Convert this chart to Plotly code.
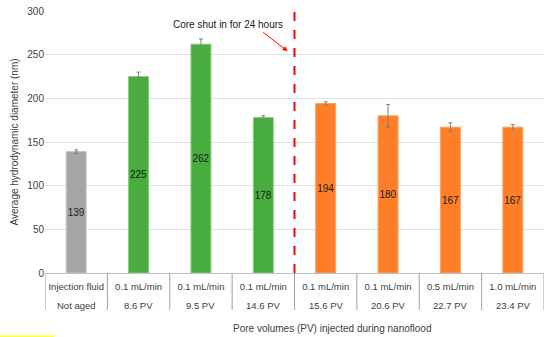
import plotly.graph_objects as go

rates = ["Injection fluid", "0.1 mL/min", "0.1 mL/min", "0.1 mL/min",
         "0.1 mL/min", "0.1 mL/min", "0.5 mL/min", "1.0 mL/min"]
pv = ["Not aged", "8.6 PV", "9.5 PV", "14.6 PV",
      "15.6 PV", "20.6 PV", "22.7 PV", "23.4 PV"]
diam = [139, 225, 262, 178, 194, 180, 167, 167]
err = [2, 5, 6, 2, 2, 13, 5, 3]
group = ["ref", "pre", "pre", "pre", "post", "post", "post", "post"]

fill = {"ref": "#a5a5a5", "pre": "#48ad3e", "post": "#fe7f27"}
edge = {"ref": "#c4c4c4", "pre": "#86cf7c", "post": "#ffa05e"}

FONT = "Liberation Sans"
TXT = "#404040"

fig = go.Figure()
fig.add_trace(go.Bar(
    x=pv, y=diam,
    marker=dict(color=[fill[g] for g in group],
                line=dict(color=[edge[g] for g in group], width=1)),
    width=0.32,
    error_y=dict(type="data", array=err, color="#808080", thickness=1, width=2),
    text=[str(v) for v in diam], textposition="inside", insidetextanchor="middle",
    constraintext="none",
    textfont=dict(family=FONT, size=10, color="#1a1a1a"),
    textangle=0,
    showlegend=False,
))

fig.update_layout(
    width=550, height=337,
    margin=dict(l=45, r=6, t=11, b=64),
    plot_bgcolor="white", paper_bgcolor="white",
    font=dict(family=FONT, size=9, color=TXT),
    xaxis=dict(
        type="category",
        showline=True, linecolor="#bfbfbf", linewidth=1,
        tickvals=pv, ticktext=rates,
        tickfont=dict(size=9.5, color=TXT),
        ticks="", ticklabelstandoff=5,
    ),
    xaxis2=dict(overlaying="x", range=[-0.5, 7.5], visible=False),
    yaxis=dict(
        range=[0, 300], dtick=50,
        showgrid=True, gridcolor="#e0e0e0", gridwidth=1,
        zeroline=False, showline=False,
        tickfont=dict(size=10, color=TXT),
        ticks="", ticklen=0,
        title=dict(text="Average hydrodynamic diameter (nm)",
                   font=dict(size=10, color=TXT), standoff=6),
    ),
)

# second row of category labels and category dividers
for i, lab in enumerate(pv):
    fig.add_annotation(xref="x2", yref="paper", x=i, y=-0.125, yanchor="middle",
                       text=lab, showarrow=False, font=dict(size=9.5, color=TXT))
for i in range(len(pv) + 1):
    fig.add_shape(type="line", xref="x2", yref="paper", x0=i - 0.5, x1=i - 0.5,
                  y0=0, y1=-0.141, line=dict(color="#a0a0a0", width=1))

# shut-in divider
fig.add_shape(type="line", xref="x2", yref="y", x0=3.5, x1=3.5, y0=0, y1=300,
              line=dict(color="#ff0000", width=2, dash="dash"))

fig.add_annotation(xref="x2", yref="y", x=2.44, y=285,
                   text="Core shut in for 24 hours", showarrow=False,
                   font=dict(size=10, color="#202020"))
fig.add_annotation(xref="x2", yref="y", x=3.39, y=254, text="",
                   showarrow=True, axref="pixel", ayref="pixel", ax=-26, ay=-20,
                   arrowhead=2, arrowsize=1, arrowwidth=1, arrowcolor="#ff0000",
                   standoff=0, startstandoff=0)

fig.add_annotation(xref="paper", yref="paper", x=0.575, y=-0.212,
                   xanchor="center", yanchor="middle",
                   text="Pore volumes (PV) injected during nanoflood",
                   showarrow=False, font=dict(size=10, color=TXT))

fig.add_shape(type="rect", xref="paper", yref="paper",
              x0=-0.09, x1=0.018, y0=-0.238, y1=-0.25,
              fillcolor="#ffff40", line=dict(width=0), layer="above")

fig.write_html("out.html", config={"displayModeBar": False},
               post_script="document.body.style.margin='0';document.body.style.padding='0';")
